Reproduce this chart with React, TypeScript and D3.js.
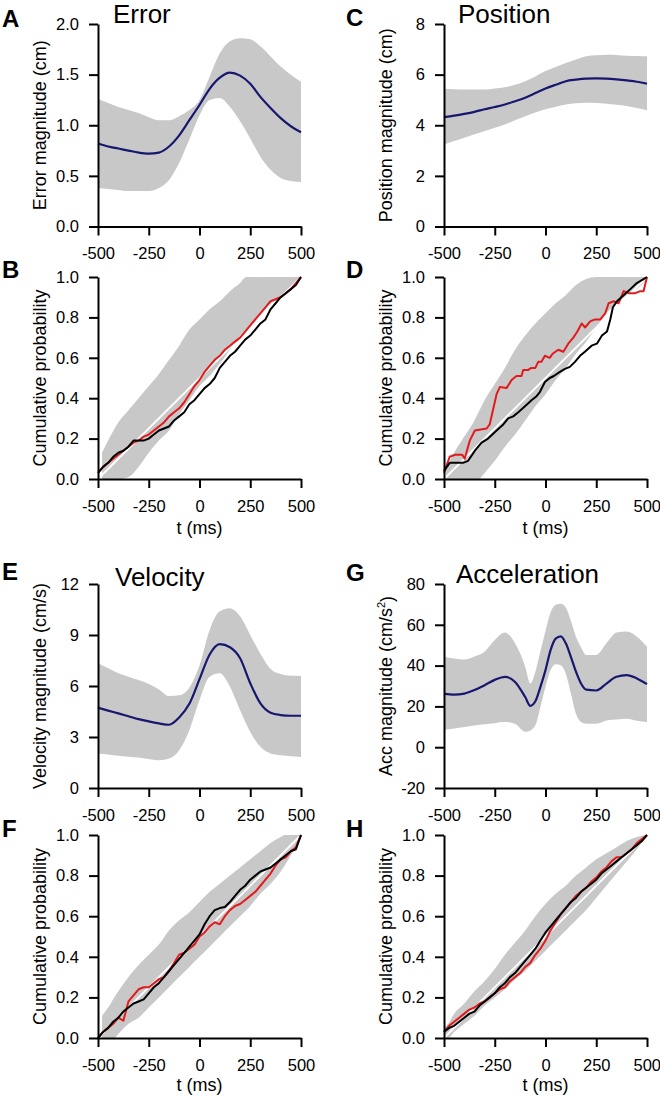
import React, { useEffect, useRef } from 'react';
import * as d3 from 'd3';

// ---------- shared ticks ----------
const tTicks = [-500, -250, 0, 250, 500];
const probTicks = [0, 0.2, 0.4, 0.6, 0.8, 1.0];

// ---------- A: Error ----------
const errT = [-500, -450, -400, -350, -300, -250, -200, -150, -100, -50, 0, 50, 100, 150, 200, 250, 300, 350, 400, 450, 500];
const errMean = [0.82, 0.79, 0.77, 0.75, 0.73, 0.72, 0.73, 0.79, 0.9, 1.05, 1.2, 1.36, 1.47, 1.52, 1.49, 1.41, 1.28, 1.17, 1.07, 0.99, 0.93];
const errHi = [1.26, 1.22, 1.18, 1.15, 1.12, 1.08, 1.05, 1.05, 1.09, 1.15, 1.25, 1.48, 1.71, 1.83, 1.86, 1.85, 1.78, 1.68, 1.58, 1.5, 1.43];
const errLo = [0.38, 0.37, 0.36, 0.35, 0.35, 0.35, 0.38, 0.46, 0.63, 0.86, 1.1, 1.25, 1.27, 1.18, 1.04, 0.87, 0.69, 0.56, 0.48, 0.45, 0.44];
const errTicks = [0, 0.5, 1.0, 1.5, 2.0];

// ---------- C: Position ----------
const posT = errT;
const posMean = [4.32, 4.38, 4.45, 4.53, 4.63, 4.72, 4.82, 4.95, 5.09, 5.27, 5.45, 5.6, 5.74, 5.8, 5.84, 5.85, 5.84, 5.81, 5.77, 5.72, 5.64];
const posHi = [5.44, 5.42, 5.41, 5.41, 5.41, 5.45, 5.5, 5.6, 5.74, 5.93, 6.14, 6.3, 6.46, 6.6, 6.73, 6.77, 6.79, 6.78, 6.75, 6.74, 6.73];
const posLo = [3.25, 3.38, 3.51, 3.64, 3.77, 3.9, 4.03, 4.2, 4.36, 4.5, 4.63, 4.73, 4.82, 4.87, 4.89, 4.88, 4.85, 4.81, 4.76, 4.68, 4.59];
const posTicks = [0, 2, 4, 6, 8];

// ---------- E: Velocity ----------
const velT = errT;
const velMean = [4.72, 4.55, 4.39, 4.22, 4.05, 3.92, 3.8, 3.72, 4.15, 4.95, 6.4, 7.85, 8.46, 8.28, 7.63, 6.16, 4.98, 4.43, 4.29, 4.25, 4.25];
const velHi = [7.34, 7.04, 6.75, 6.55, 6.35, 6.12, 5.8, 5.41, 5.45, 5.9, 7.2, 9.3, 10.4, 10.58, 10.1, 9.0, 7.9, 7.0, 6.7, 6.6, 6.59];
const velLo = [2.03, 1.97, 1.89, 1.84, 1.79, 1.71, 1.63, 1.73, 2.22, 3.4, 5.17, 6.55, 6.75, 5.96, 4.58, 3.3, 2.42, 2.03, 1.93, 1.87, 1.83];
const velTicks = [0, 3, 6, 9, 12];

// ---------- G: Acceleration ----------
const accT = [-500, -450, -400, -350, -300, -250, -200, -150, -100, -75, -50, -25, 0, 25, 50, 75, 100, 125, 150, 175, 200, 250, 300, 350, 400, 450, 500];
const accMean = [26.3, 25.8, 26.3, 28.0, 30.4, 33.0, 34.5, 32.0, 24.6, 20.3, 22.5, 29.6, 37.8, 47.6, 53.2, 54.3, 50.9, 44.3, 37.0, 31.2, 28.2, 27.8, 31.2, 34.5, 35.3, 33.7, 30.9];
const accHi = [44.3, 43.5, 43.0, 44.5, 46.8, 52.5, 56.2, 50.9, 39.4, 31.2, 37.0, 47.0, 57.0, 66.0, 69.8, 70.3, 68.5, 62.0, 54.2, 49.0, 45.2, 45.2, 50.9, 56.2, 56.7, 54.2, 49.3];
const accLo = [8.5, 9.2, 9.9, 10.6, 11.2, 11.8, 12.3, 11.5, 7.6, 8.2, 10.7, 19.7, 29.6, 37.8, 40.7, 40.2, 36.1, 26.3, 16.4, 12.3, 11.5, 11.5, 13.1, 13.6, 14.0, 13.0, 12.3];
const accTicks = [-20, 0, 20, 40, 60, 80];

// ---------- cumulative panels ----------
const uniformT = [-500, 500];
const uniformP = [0, 1];
const cdfT = [-500, -475, -450, -425, -400, -375, -350, -325, -300, -275, -250, -225, -200, -175, -150, -125, -100, -75, -50, -25, 0, 25, 50, 75, 100, 125, 150, 175, 200, 225, 250, 275, 300, 325, 350, 375, 400, 425, 450, 475, 500];

// B (Error)
const bBandT = [-480, -450, -400, -350, -300, -250, -200, -150, -100, -50, 0, 50, 100, 150, 200, 230, 250, 300, 350, 400, 450, 500];
const bBandHi = [0.13, 0.19, 0.28, 0.34, 0.4, 0.46, 0.52, 0.59, 0.66, 0.74, 0.79, 0.84, 0.88, 0.93, 0.97, 1, 1, 1, 1, 1, 1, 1];
const bBandLo = [0, 0, 0, 0.01, 0.06, 0.13, 0.19, 0.24, 0.32, 0.39, 0.46, 0.51, 0.57, 0.64, 0.71, 0.74, 0.76, 0.82, 0.87, 0.9, 0.94, 1.0];
const bRed = [0.03, 0.06, 0.08, 0.1, 0.12, 0.14, 0.16, 0.18, 0.19, 0.21, 0.22, 0.24, 0.26, 0.28, 0.31, 0.33, 0.35, 0.38, 0.42, 0.46, 0.49, 0.53, 0.56, 0.59, 0.61, 0.64, 0.66, 0.68, 0.7, 0.73, 0.76, 0.79, 0.82, 0.85, 0.88, 0.89, 0.9, 0.92, 0.94, 0.97, 1.0];
const bBlack = [0.03, 0.06, 0.08, 0.11, 0.13, 0.14, 0.16, 0.19, 0.19, 0.19, 0.2, 0.22, 0.24, 0.25, 0.26, 0.29, 0.31, 0.33, 0.37, 0.39, 0.42, 0.45, 0.47, 0.5, 0.55, 0.58, 0.61, 0.63, 0.66, 0.69, 0.71, 0.74, 0.77, 0.79, 0.84, 0.87, 0.9, 0.92, 0.94, 0.96, 1.0];

// D (Position)
const dBandT = [-490, -450, -400, -350, -330, -300, -250, -200, -150, -100, -50, 0, 50, 100, 150, 200, 250, 300, 350, 400, 450, 500];
const dBandHi = [0.05, 0.13, 0.21, 0.29, 0.33, 0.39, 0.47, 0.55, 0.64, 0.71, 0.77, 0.82, 0.87, 0.91, 0.96, 0.99, 1, 1, 1, 1, 1, 1];
const dBandLo = [0, 0, 0, 0, 0, 0.03, 0.09, 0.16, 0.22, 0.29, 0.36, 0.42, 0.49, 0.55, 0.62, 0.68, 0.75, 0.82, 0.87, 0.91, 0.94, 0.99];
const dRedT = [-500, -472, -445, -410, -398, -373, -348, -290, -275, -241, -225, -192, -167, -143, -118, -110, -85, -70, -50, -36, -20, -3, 21, 35, 63, 88, 112, 137, 157, 178, 195, 220, 244, 270, 294, 311, 336, 360, 385, 410, 442, 467, 483, 500];
const dRedP = [0.03, 0.11, 0.12, 0.12, 0.1, 0.19, 0.24, 0.25, 0.27, 0.42, 0.455, 0.45, 0.49, 0.51, 0.51, 0.54, 0.54, 0.55, 0.55, 0.58, 0.58, 0.61, 0.6, 0.62, 0.64, 0.63, 0.67, 0.7, 0.73, 0.77, 0.75, 0.78, 0.79, 0.79, 0.82, 0.87, 0.88, 0.87, 0.93, 0.92, 0.92, 0.93, 0.93, 1.0];
const dBlackT = [-500, -472, -406, -381, -348, -315, -283, -241, -208, -184, -159, -134, -101, -69, -44, -28, -3, 21, 41, 71, 96, 120, 145, 170, 194, 227, 253, 278, 303, 319, 332, 352, 385, 418, 450, 483, 500];
const dBlackP = [0.04, 0.08, 0.08, 0.09, 0.14, 0.18, 0.2, 0.24, 0.27, 0.3, 0.31, 0.33, 0.36, 0.39, 0.41, 0.43, 0.48, 0.5, 0.51, 0.53, 0.545, 0.555, 0.58, 0.61, 0.63, 0.66, 0.67, 0.71, 0.73, 0.79, 0.85, 0.88, 0.91, 0.94, 0.97, 0.99, 1.0];

// F (Velocity)
const fBandT = [-480, -450, -420, -400, -350, -300, -250, -200, -150, -100, -50, 0, 50, 100, 150, 200, 250, 300, 350, 400, 420, 450, 500];
const fBandHi = [0.11, 0.15, 0.2, 0.23, 0.3, 0.36, 0.41, 0.46, 0.53, 0.58, 0.62, 0.67, 0.72, 0.76, 0.8, 0.84, 0.88, 0.92, 0.96, 0.99, 1, 1, 1];
const fBandLo = [0, 0, 0, 0.02, 0.07, 0.1, 0.15, 0.2, 0.25, 0.3, 0.35, 0.4, 0.45, 0.5, 0.55, 0.6, 0.65, 0.71, 0.76, 0.82, 0.85, 0.9, 0.99];
const fRed = [0.0, 0.03, 0.05, 0.07, 0.1, 0.085, 0.18, 0.21, 0.24, 0.25, 0.25, 0.27, 0.29, 0.3, 0.33, 0.37, 0.41, 0.42, 0.44, 0.46, 0.5, 0.52, 0.55, 0.57, 0.56, 0.6, 0.63, 0.65, 0.66, 0.68, 0.7, 0.72, 0.75, 0.78, 0.81, 0.85, 0.88, 0.89, 0.92, 0.94, 1.0];
const fBlack = [0.0, 0.03, 0.05, 0.08, 0.1, 0.13, 0.15, 0.17, 0.18, 0.19, 0.22, 0.25, 0.27, 0.3, 0.33, 0.36, 0.39, 0.42, 0.45, 0.48, 0.51, 0.56, 0.6, 0.63, 0.64, 0.645, 0.67, 0.7, 0.73, 0.75, 0.78, 0.8, 0.82, 0.83, 0.84, 0.86, 0.88, 0.9, 0.92, 0.93, 1.0];

// H (Acceleration)
const hBandT = [-500, -480, -450, -400, -350, -300, -250, -200, -150, -100, -50, 0, 50, 100, 150, 200, 250, 300, 350, 400, 450, 500];
const hBandHi = [0.05, 0.07, 0.12, 0.17, 0.23, 0.28, 0.34, 0.41, 0.47, 0.53, 0.6, 0.66, 0.71, 0.75, 0.8, 0.84, 0.88, 0.91, 0.94, 0.97, 0.99, 1.0];
const hBandLo = [0, 0, 0.03, 0.07, 0.11, 0.16, 0.2, 0.24, 0.29, 0.33, 0.38, 0.43, 0.48, 0.53, 0.58, 0.63, 0.69, 0.75, 0.81, 0.87, 0.93, 1.0];
const hRed = [0.03, 0.06, 0.08, 0.1, 0.12, 0.14, 0.15, 0.17, 0.18, 0.2, 0.22, 0.24, 0.25, 0.28, 0.3, 0.32, 0.35, 0.37, 0.41, 0.44, 0.48, 0.53, 0.57, 0.61, 0.64, 0.67, 0.7, 0.72, 0.74, 0.77, 0.79, 0.82, 0.84, 0.87, 0.89, 0.89, 0.91, 0.93, 0.96, 0.98, 1.0];
const hBlack = [0.03, 0.05, 0.06, 0.08, 0.1, 0.12, 0.13, 0.16, 0.18, 0.2, 0.22, 0.25, 0.27, 0.3, 0.32, 0.35, 0.38, 0.41, 0.44, 0.48, 0.52, 0.55, 0.58, 0.61, 0.64, 0.67, 0.69, 0.72, 0.74, 0.76, 0.78, 0.81, 0.83, 0.85, 0.87, 0.89, 0.91, 0.93, 0.95, 0.97, 1.0];

const FONT = '"Liberation Sans", Arial, Helvetica, sans-serif';
const BAND = '#c8c8c8';
const NAVY = '#17176f';
const RED = '#e31a1c';

const hyphen = (f: (n: number) => string) => (n: number) => f(n).replace('\u2212', '-');
const fmtInt = hyphen(d3.format('d'));
const fmt1 = hyphen(d3.format('.1f'));

export default function App() {
  const ref = useRef<SVGSVGElement>(null);

  useEffect(() => {
    const svg = d3.select(ref.current);
    svg.selectAll('*').remove();

    const colL = [98, 301];
    const colR = [444, 647];
    const row1 = [24, 226.5];
    const row2 = [277, 479];
    const row3 = [584, 788];
    const row4 = [835, 1038];

    const smoothPanels = [
      { letter: 'A', title: 'Error', col: colL, row: row1, t: errT, mean: errMean, hi: errHi, lo: errLo, ticks: errTicks, fmt: fmt1, label: 'Error magnitude (cm)', letterY: 27, titleX: 113, titleY: 23 },
      { letter: 'C', title: 'Position', col: colR, row: row1, t: posT, mean: posMean, hi: posHi, lo: posLo, ticks: posTicks, fmt: fmtInt, label: 'Position magnitude (cm)', letterY: 26, titleX: 458, titleY: 23 },
      { letter: 'E', title: 'Velocity', col: colL, row: row3, t: velT, mean: velMean, hi: velHi, lo: velLo, ticks: velTicks, fmt: fmtInt, label: 'Velocity magnitude (cm/s)', letterY: 580, titleX: 115, titleY: 586 },
      { letter: 'G', title: 'Acceleration', col: colR, row: row3, t: accT, mean: accMean, hi: accHi, lo: accLo, ticks: accTicks, fmt: fmtInt, label: 'ACC', letterY: 581, titleX: 456, titleY: 583 },
    ];

    const cdfPanels = [
      { letter: 'B', col: colL, row: row2, bandT: bBandT, bandHi: bBandHi, bandLo: bBandLo, redT: cdfT, red: bRed, blackT: cdfT, black: bBlack, letterY: 278, xlab: 55 },
      { letter: 'D', col: colR, row: row2, bandT: dBandT, bandHi: dBandHi, bandLo: dBandLo, redT: dRedT, red: dRedP, blackT: dBlackT, black: dBlackP, letterY: 278, xlab: 55 },
      { letter: 'F', col: colL, row: row4, bandT: fBandT, bandHi: fBandHi, bandLo: fBandLo, redT: cdfT, red: fRed, blackT: cdfT, black: fBlack, letterY: 837, xlab: 53 },
      { letter: 'H', col: colR, row: row4, bandT: hBandT, bandHi: hBandHi, bandLo: hBandLo, redT: cdfT, red: hRed, blackT: cdfT, black: hBlack, letterY: 837, xlab: 53 },
    ];

    const drawAxes = (
      x: d3.ScaleLinear<number, number>,
      y: d3.ScaleLinear<number, number>,
      yTicks: number[],
      fmt: (n: number) => string,
    ) => {
      const [x0, x1] = x.range();
      const [yb] = y.range();
      const gx = svg.append('g').attr('transform', `translate(0,${yb})`)
        .call(d3.axisBottom(x).tickValues(tTicks).tickSize(9).tickPadding(12).tickSizeOuter(0).tickFormat(fmtInt as any));
      const gy = svg.append('g').attr('transform', `translate(${x0},0)`)
        .call(d3.axisLeft(y).tickValues(yTicks).tickSize(9).tickPadding(10).tickSizeOuter(0).tickFormat(fmt as any));
      [gx, gy].forEach((g) => {
        g.attr('font-family', FONT).attr('font-size', 16.5);
        g.select('.domain').attr('stroke', '#000').attr('stroke-width', 2);
        g.selectAll('.tick line').attr('stroke', '#000').attr('stroke-width', 2);
        g.selectAll('.tick text').attr('fill', '#000');
      });
      // keep the last x label inside the page on the right column
      if (x1 > 600) {
        gx.selectAll<SVGTextElement, number>('.tick text').filter((d) => d === 500).attr('text-anchor', 'end').attr('dx', '0.82em');
      }
    };

    const yLabel = (text: string, xAxis: number, yc: number) => {
      const t = svg.append('text')
        .attr('transform', `translate(${xAxis - 58},${yc}) rotate(-90)`)
        .attr('text-anchor', 'middle').attr('dy', '0.35em')
        .attr('font-family', FONT).attr('font-size', 18).attr('fill', '#000');
      if (text === 'ACC') {
        t.append('tspan').text('Acc magnitude (cm/s');
        t.append('tspan').text('2').attr('font-size', 11).attr('dy', '-0.7em');
        t.append('tspan').text(')').attr('dy', '0.45em');
      } else {
        t.text(text);
      }
    };

    const letter = (l: string, x: number, y: number) => {
      svg.append('text').attr('x', x).attr('y', y).text(l)
        .attr('font-family', FONT).attr('font-size', 24).attr('font-weight', 'bold').attr('fill', '#000');
    };

    smoothPanels.forEach((p) => {
      const x = d3.scaleLinear().domain([-500, 500]).range(p.col);
      const y = d3.scaleLinear().domain([p.ticks[0], p.ticks[p.ticks.length - 1]]).range([p.row[1], p.row[0]]);
      const idx = d3.range(p.t.length);
      const area = d3.area<number>().x((i) => x(p.t[i])).y0((i) => y(p.lo[i])).y1((i) => y(p.hi[i])).curve(d3.curveMonotoneX);
      const line = d3.line<number>().x((i) => x(p.t[i])).y((i) => y(p.mean[i])).curve(d3.curveMonotoneX);
      svg.append('path').attr('d', area(idx)).attr('fill', BAND);
      svg.append('path').attr('d', line(idx)).attr('fill', 'none').attr('stroke', NAVY).attr('stroke-width', 2.2);
      drawAxes(x, y, p.ticks, p.fmt);
      yLabel(p.label, p.col[0], (p.row[0] + p.row[1]) / 2);
      letter(p.letter, p.col[0] === 98 ? 2 : 346, p.letterY);
      svg.append('text').attr('x', p.titleX).attr('y', p.titleY).text(p.title)
        .attr('font-family', FONT).attr('font-size', 26).attr('fill', '#000');
    });

    cdfPanels.forEach((p) => {
      const x = d3.scaleLinear().domain([-500, 500]).range(p.col);
      const y = d3.scaleLinear().domain([0, 1]).range([p.row[1], p.row[0]]);
      const bIdx = d3.range(p.bandT.length);
      const area = d3.area<number>().x((i) => x(p.bandT[i])).y0((i) => y(p.bandLo[i])).y1((i) => y(p.bandHi[i])).curve(d3.curveMonotoneX);
      svg.append('path').attr('d', area(bIdx)).attr('fill', BAND);
      const lineOf = (ts: number[], vs: number[]) =>
        d3.line<number>().x((i) => x(ts[i])).y((i) => y(vs[i]))(d3.range(ts.length));
      svg.append('path').attr('d', lineOf(uniformT, uniformP)).attr('fill', 'none').attr('stroke', '#fff').attr('stroke-width', 1.8);
      svg.append('path').attr('d', lineOf(p.redT, p.red)).attr('fill', 'none').attr('stroke', RED).attr('stroke-width', 2).attr('stroke-linejoin', 'round');
      svg.append('path').attr('d', lineOf(p.blackT, p.black)).attr('fill', 'none').attr('stroke', '#000').attr('stroke-width', 2).attr('stroke-linejoin', 'round');
      drawAxes(x, y, probTicks, fmt1);
      yLabel('Cumulative probability', p.col[0], (p.row[0] + p.row[1]) / 2);
      letter(p.letter, p.col[0] === 98 ? 2 : 346, p.letterY);
      svg.append('text').attr('x', (p.col[0] + p.col[1]) / 2).attr('y', p.row[1] + p.xlab).text('t (ms)')
        .attr('text-anchor', 'middle').attr('font-family', FONT).attr('font-size', 18).attr('fill', '#000');
    });
  }, []);

  return (
    <svg ref={ref} width={660} height={1100} style={{ position: 'absolute', left: 0, top: 0, background: '#fff' }} />
  );
}
